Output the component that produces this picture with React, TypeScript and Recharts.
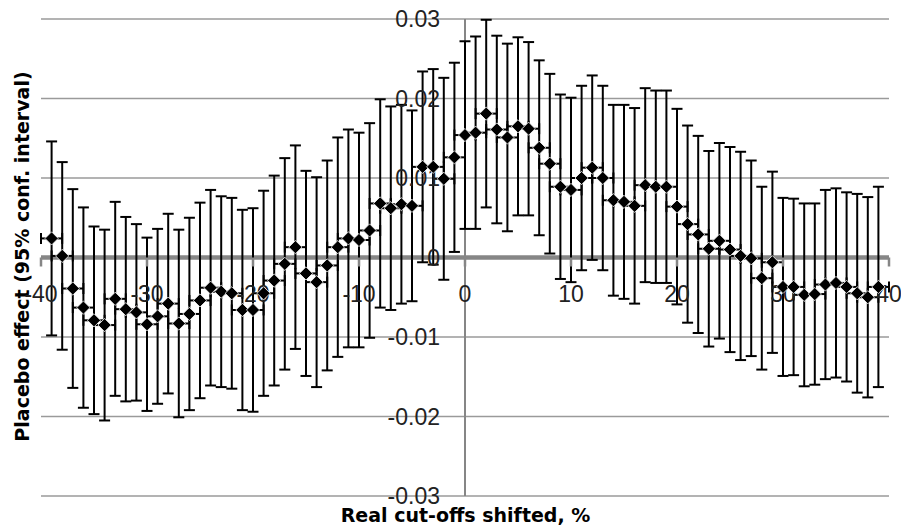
import React from "react";
import {
  CartesianGrid,
  Customized,
  ErrorBar,
  ReferenceDot,
  ReferenceLine,
  Scatter,
  ScatterChart,
  XAxis,
  YAxis,
} from "recharts";

// cut-off shift, %
const shifts = [
  -39, -38, -37, -36, -35, -34, -33, -32, -31, -30, -29, -28, -27, -26, -25, -24, -23, -22, -21, -20,
  -19, -18, -17, -16, -15, -14, -13, -12, -11, -10, -9, -8, -7, -6, -5, -4, -3, -2, -1, 0,
  1, 2, 3, 4, 5, 6, 7, 8, 9, 10, 11, 12, 13, 14, 15, 16, 17, 18, 19, 20,
  21, 22, 23, 24, 25, 26, 27, 28, 29, 30, 31, 32, 33, 34, 35, 36, 37, 38, 39,
];

// placebo effect (point estimate)
const effects = [
  0.0024, 0.0002, -0.0039, -0.0063, -0.0079, -0.0085, -0.0052, -0.0065, -0.0069, -0.0084,
  -0.0074, -0.0058, -0.0083, -0.0071, -0.0054, -0.0038, -0.0043, -0.0045, -0.0066, -0.0066,
  -0.0045, -0.0029, -0.0008, 0.0013, -0.002, -0.0031, -0.001, 0.0013, 0.0024, 0.0022,
  0.0034, 0.0068, 0.0062, 0.0067, 0.0065, 0.0114, 0.0114, 0.0099, 0.0126, 0.0154,
  0.0157, 0.0181, 0.0161, 0.0151, 0.0165, 0.0162, 0.0138, 0.0118, 0.0089, 0.0085,
  0.01, 0.0113, 0.01, 0.0072, 0.007, 0.0065, 0.0091, 0.0089, 0.0089, 0.0064,
  0.0042, 0.0029, 0.0011, 0.0021, 0.001, 0.0002, -0.0001, -0.0026, -0.0006, -0.0037,
  -0.0037, -0.0047, -0.0046, -0.0034, -0.0032, -0.0037, -0.0045, -0.005, -0.0037,
];

// half width of the 95% confidence interval
const ciHalf = [
  0.0122, 0.0118, 0.0125, 0.0126, 0.0118, 0.012, 0.0122, 0.0116, 0.0111, 0.0109,
  0.011, 0.0113, 0.0118, 0.0121, 0.0123, 0.0123, 0.012, 0.012, 0.0126, 0.0128,
  0.0129, 0.0132, 0.0133, 0.0128, 0.0129, 0.0132, 0.0132, 0.0138, 0.0137, 0.0135,
  0.0135, 0.0131, 0.0128, 0.0125, 0.012, 0.012, 0.0123, 0.0127, 0.0119, 0.0118,
  0.0121, 0.0118, 0.0118, 0.0118, 0.0112, 0.0109, 0.011, 0.0113, 0.0116, 0.0116,
  0.0116, 0.0116, 0.0116, 0.012, 0.0122, 0.0123, 0.0122, 0.0121, 0.0121, 0.0123,
  0.0124, 0.0124, 0.0123, 0.0123, 0.0129, 0.0131, 0.0123, 0.0115, 0.0114, 0.0112,
  0.0111, 0.0115, 0.0114, 0.0119, 0.0119, 0.0119, 0.0125, 0.0126, 0.0126,
];

const X_ERR = 1;

const yTicks = [-0.03, -0.02, -0.01, 0, 0.01, 0.02, 0.03];
const yTickLabels = ["-0.03", "-0.02", "-0.01", "0", "0.01", "0.02", "0.03"];
const xTicks = [-40, -30, -20, -10, 0, 10, 20, 30, 40];
const xTickLabels = ["-40", "-30", "-20", "-10", "0", "10", "20", "30", "40"];

const data = shifts.map((x, i) => ({ x, y: effects[i], yErr: ciHalf[i], xErr: X_ERR }));

const AXIS_GREY = "#868686";
const TICK_FONT = "'Liberation Sans', Arial, sans-serif";
const TITLE_FONT = "'DejaVu Sans', sans-serif";

function Diamond(props: any) {
  const { cx, cy } = props;
  if (cx == null || cy == null) return null;
  const r = 6.6;
  return (
    <path
      d={`M${cx},${cy - r}L${cx + r},${cy}L${cx},${cy + r}L${cx - r},${cy}Z`}
      fill="#000"
      stroke="#fff"
      strokeWidth={0.8}
    />
  );
}

function XTick({ cx, cy, text }: { cx: number; cy: number; text: string }) {
  return (
    <g>
      <line x1={cx} y1={cy} x2={cx} y2={cy + 9} stroke={AXIS_GREY} strokeWidth={2.5} />
      <text x={cx} y={cy + 44} textAnchor="middle" fontFamily={TICK_FONT} fontSize={23} fill="#222">
        {text}
      </text>
    </g>
  );
}

function YTick({ cx, cy, text }: { cx: number; cy: number; text: string }) {
  return (
    <text x={cx - 25} y={cy + 8.3} textAnchor="end" fontFamily={TICK_FONT} fontSize={23} fill="#222">
      {text}
    </text>
  );
}

function Titles() {
  return (
    <g>
      <text
        x={465.5}
        y={522}
        textAnchor="middle"
        fontFamily={TITLE_FONT}
        fontWeight="bold"
        fontSize={19}
        fill="#000"
      >
        Real cut-offs shifted, %
      </text>
      <text
        x={29}
        y={256.5}
        transform="rotate(-90 29 256.5)"
        textAnchor="middle"
        fontFamily={TITLE_FONT}
        fontWeight="bold"
        fontSize={19}
        fill="#000"
      >
        Placebo effect (95% conf. interval)
      </text>
    </g>
  );
}

export default function App() {
  return (
    <div style={{ position: "absolute", left: 0, top: 0, width: 901, height: 530, background: "#fff" }}>
      <ScatterChart width={901} height={530} margin={{ top: 19, right: 12, bottom: 34, left: 41 }}>
        <XAxis type="number" dataKey="x" domain={[-40, 40]} ticks={xTicks} hide />
        <YAxis type="number" dataKey="y" domain={[-0.03, 0.03]} ticks={yTicks} hide />
        <CartesianGrid vertical={false} horizontalValues={yTicks} stroke="#9a9a9a" strokeWidth={1.3} />
        <ReferenceLine x={0} stroke={AXIS_GREY} strokeWidth={2} />
        <ReferenceLine y={0} stroke={AXIS_GREY} strokeWidth={4.5} />
        {xTicks.map((t, i) => (
          <ReferenceDot
            key={`xt${t}`}
            x={t}
            y={0}
            r={1}
            shape={(p: any) => <XTick cx={p.cx} cy={p.cy} text={xTickLabels[i]} />}
          />
        ))}
        {yTicks.map((t, i) => (
          <ReferenceDot
            key={`yt${t}`}
            x={0}
            y={t}
            r={1}
            shape={(p: any) => <YTick cx={p.cx} cy={p.cy} text={yTickLabels[i]} />}
          />
        ))}
        <Scatter data={data} dataKey="y" shape={Diamond} isAnimationActive={false}>
          <ErrorBar dataKey="yErr" direction="y" width={5.5} stroke="#000" strokeWidth={2} isAnimationActive={false} />
          <ErrorBar dataKey="xErr" direction="x" width={5.5} stroke="#000" strokeWidth={2} isAnimationActive={false} />
        </Scatter>
        <Customized component={Titles} />
      </ScatterChart>
    </div>
  );
}
